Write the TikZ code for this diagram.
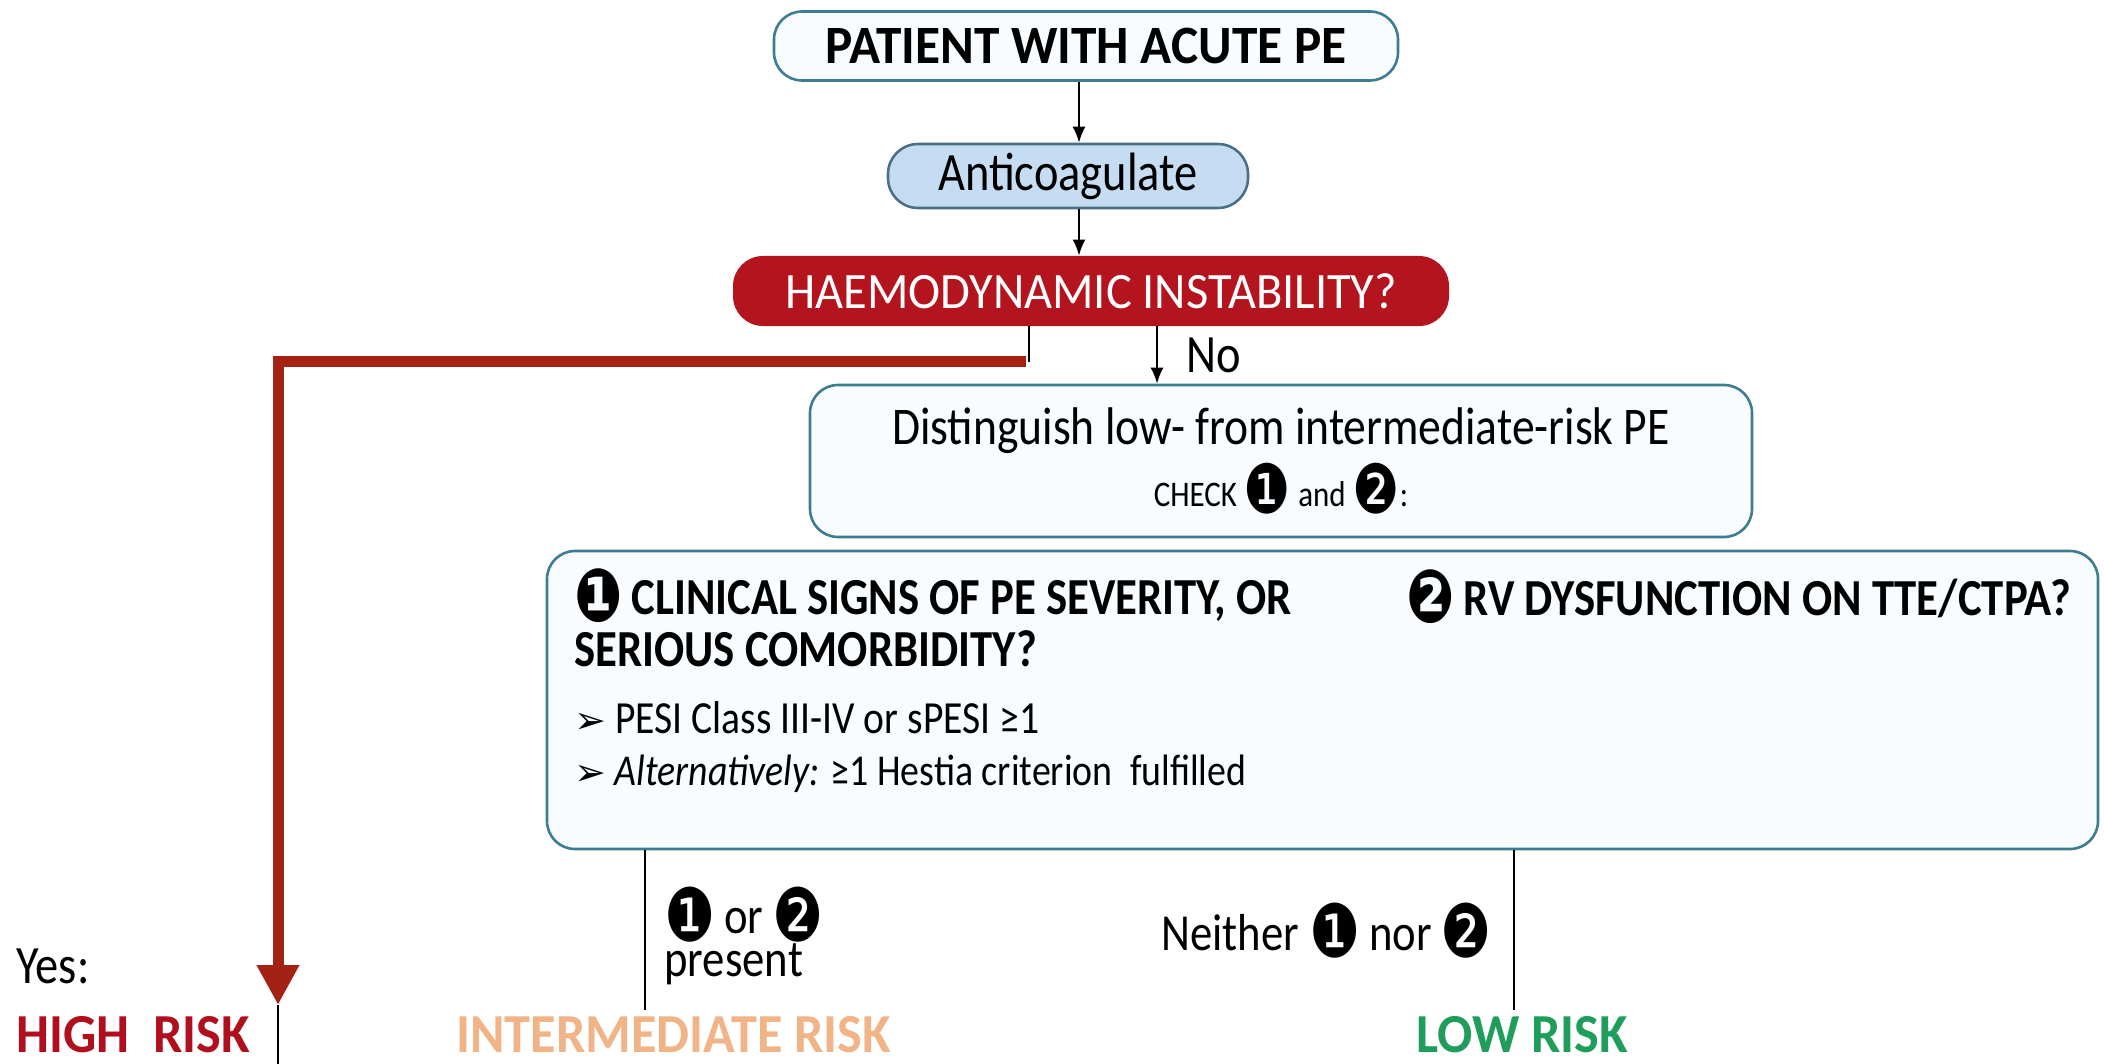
\documentclass[tikz,border=0pt]{standalone}
\usepackage{fontspec}
\setmainfont{Carlito}[FakeStretch=0.86]
\newfontfamily\widefont{Carlito}[FakeStretch=0.95]
\newfontfamily\dejavu{DejaVu Sans}
\usetikzlibrary{arrows.meta}

\definecolor{boxline}{HTML}{3E7C90}
\definecolor{boxfill}{HTML}{F8FCFE}
\definecolor{antiline}{HTML}{4C6F88}
\definecolor{antifill}{HTML}{C6DCF2}
\definecolor{haemored}{HTML}{B3141E}
\definecolor{pathred}{HTML}{A32213}
\definecolor{highred}{HTML}{B0101E}
\definecolor{midorange}{HTML}{F0B486}
\definecolor{lowgreen}{HTML}{1E9D5B}

% black numbered ovals
\newcommand{\nb}[1]{{\dejavu\raisebox{-0.14em}{\scalebox{1.1}[1.42]{#1}}}}
\newcommand{\bul}{{\dejavu\fontsize{19}{19}\selectfont ➢}}

\begin{document}
\begin{tikzpicture}[x=0.5pt,y=-0.5pt,
    >={Latex[length=8pt,width=6.5pt]},
    box/.style={draw=boxline,line width=1.3pt,fill=boxfill,rounded corners=14pt},
    big/.style={font=\bfseries\fontsize{26}{30}\selectfont},
    txt/.style={font=\fontsize{#1}{#1}\selectfont,anchor=west,inner sep=0pt},
    risk/.style={font=\widefont\bfseries\fontsize{27.5}{30}\selectfont,anchor=west,inner sep=0pt},
    ]
\useasboundingbox (0,0) rectangle (2104,1064);

\node[box,minimum width=312pt,minimum height=34.5pt,font=\widefont\bfseries\fontsize{27}{30}\selectfont] (patient) at (1086,46) {PATIENT WITH ACUTE PE};
\node[draw=antiline,line width=1.3pt,fill=antifill,rounded corners=15pt,
      minimum width=180pt,minimum height=32pt,font=\fontsize{27}{30}\selectfont] (anti) at (1068,176) {Anticoagulate};
\node[fill=haemored,text=white,rounded corners=15pt,minimum width=358pt,minimum height=35pt,
      font=\widefont\fontsize{25.5}{30}\selectfont] (haemo) at (1091,291) {HAEMODYNAMIC INSTABILITY?};
\node[box,minimum width=471pt,minimum height=76pt,align=center,font=\fontsize{26.5}{30}\selectfont] (dist) at (1281,461)
    {\raisebox{4pt}{Distinguish low- from intermediate-risk PE}\\[-3pt]
     {\fontsize{18}{18}\selectfont CHECK {\fontsize{24}{24}\selectfont\nb{❶}} and {\fontsize{24}{24}\selectfont\nb{❷}}:}};
\node[box,minimum width=775.5pt,minimum height=149pt] (check) at (1322.5,700) {};

% criteria
\node[txt=26,big,anchor=west] (sign1) at (574,596) {\nb{❶}\,CLINICAL SIGNS OF PE SEVERITY, OR};
\node[txt=26,big,anchor=west] (sign2) at (574,649) {SERIOUS COMORBIDITY?};
\node[txt=26,big,anchor=west] (rvdys) at (1406,597) {\nb{❷}\,RV DYSFUNCTION ON TTE/CTPA?};
\node[txt=23] (pesi) at (574,718) {\bul\ PESI Class III-IV or sPESI ≥1};
\node[txt=22] (hestia) at (574,774) {\bul\ \textit{Alternatively:} ≥1 Hestia criterion\hspace{0.4em}fulfilled};

% outcomes
\node[txt=27] (yes) at (16,966) {Yes:};
\node[txt=26,align=left,font=\fontsize{26}{20}\selectfont] (present) at (664,936) {\nb{❶}\,or\,\nb{❷}\\present};
\node[txt=26] (neither) at (1161,931) {Neither \nb{❶}\,nor\,\nb{❷}};
\node[risk,text=highred] (high) at (16,1035) {HIGH\ \ RISK};
\node[risk,text=midorange] (mid) at (456,1035) {INTERMEDIATE RISK};
\node[risk,text=lowgreen] (low) at (1416,1035) {LOW RISK};

\coordinate (spine) at (1079,0);
\coordinate (noline) at (1157,0);
\coordinate (turn) at (1029,362);
\coordinate (redstart) at (1026,361);
\coordinate (hightip) at (278,1005);
\coordinate (midend) at (645,1010);
\coordinate (lowend) at (1514,1010);
\coordinate (bottom) at (0,1064);

\draw[line width=1pt]
    (patient.south -| spine) edge[->] (anti.north -| spine)
    (anti.south -| spine)    edge[->] (haemo.north -| spine)
    (haemo.south -| noline)  edge[->] node[right=14pt,txt=27,anchor=west] (no) {No} (dist.north -| noline)
    (haemo.south -| turn)    edge (turn)
    (check.south -| midend)  edge (midend)
    (check.south -| lowend)  edge (lowend)
    (hightip)                edge (hightip |- bottom);
\draw[pathred,line width=5.5pt,-{Triangle[length=20pt,width=20pt]}] (redstart) -| (hightip);
\end{tikzpicture}
\end{document}
